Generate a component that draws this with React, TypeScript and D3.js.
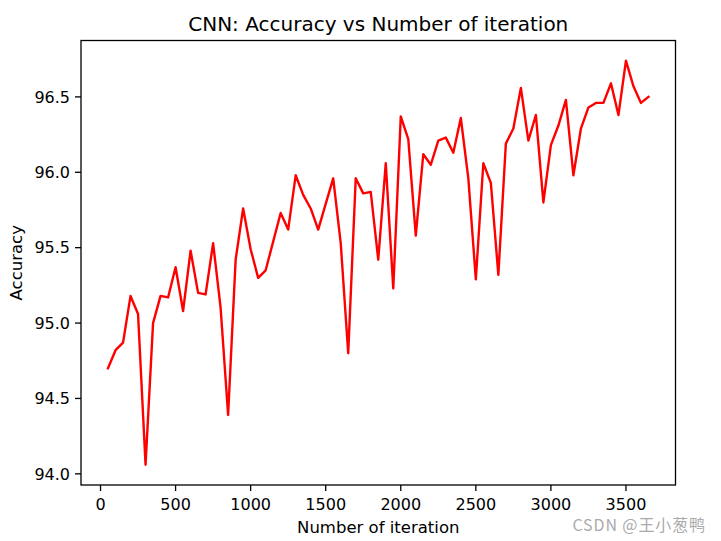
import React from 'react';
import * as d3 from 'd3';

const iterations = [
  50, 100, 150, 200, 250, 300, 350, 400, 450, 500, 550, 600, 650, 700, 750, 800,
  850, 900, 950, 1000, 1050, 1100, 1150, 1200, 1250, 1300, 1350, 1400, 1450, 1500,
  1550, 1600, 1650, 1700, 1750, 1800, 1850, 1900, 1950, 2000, 2050, 2100, 2150,
  2200, 2250, 2300, 2350, 2400, 2450, 2500, 2550, 2600, 2650, 2700, 2750, 2800,
  2850, 2900, 2950, 3000, 3050, 3100, 3150, 3200, 3250, 3300, 3350, 3400, 3450,
  3500, 3550, 3600, 3650,
];

const accuracy = [
  94.7, 94.82, 94.87, 95.18, 95.06, 94.06, 95.0, 95.18, 95.17, 95.37, 95.08, 95.48,
  95.2, 95.19, 95.53, 95.1, 94.39, 95.42, 95.76, 95.49, 95.3, 95.35, 95.54, 95.73,
  95.62, 95.98, 95.85, 95.76, 95.62, 95.79, 95.96, 95.53, 94.8, 95.96, 95.86, 95.87,
  95.42, 96.06, 95.23, 96.37, 96.22, 95.58, 96.12, 96.05, 96.21, 96.23, 96.13, 96.36,
  95.96, 95.29, 96.06, 95.93, 95.32, 96.19, 96.29, 96.56, 96.21, 96.38, 95.8, 96.18,
  96.31, 96.48, 95.98, 96.29, 96.43, 96.46, 96.46, 96.59, 96.38, 96.74, 96.57, 96.46,
  96.5,
];

const xTicks = [0, 500, 1000, 1500, 2000, 2500, 3000, 3500];
const yTicks = [94.0, 94.5, 95.0, 95.5, 96.0, 96.5];

const title = 'CNN: Accuracy vs Number of iteration';
const xLabel = 'Number of iteration';
const yLabel = 'Accuracy';
const watermark = 'CSDN @王小葱鸭';

const W = 721;
const H = 541;
const left = 81;
const right = 675.5;
const top = 40.5;
const bottom = 485;
const font = 'DejaVu Sans, sans-serif';

// matplotlib style 5% margins
const pad = ([a, b]: number[]) => {
  const m = (b - a) * 0.05;
  return [a - m, b + m];
};

const App = () => {
  const x = d3
    .scaleLinear()
    .domain(pad(d3.extent(iterations) as number[]))
    .range([left, right]);
  const y = d3
    .scaleLinear()
    .domain(pad(d3.extent(accuracy) as number[]))
    .range([bottom, top]);

  const line = d3
    .line<number>()
    .x((d, i) => x(iterations[i]))
    .y(d => y(d));

  const fmt = d3.format('.1f');

  return (
    <svg
      width={W}
      height={H}
      style={{ position: 'absolute', left: 0, top: 0, background: '#fff' }}
    >
      <rect width={W} height={H} fill="#fff" />
      <path
        d={line(accuracy) || ''}
        fill="none"
        stroke="#ff0000"
        strokeWidth={2.4}
        strokeLinejoin="round"
        strokeLinecap="square"
      />
      <rect
        x={left}
        y={top}
        width={right - left}
        height={bottom - top}
        fill="none"
        stroke="#000"
        strokeWidth={1.3}
      />
      {xTicks.map(t => (
        <g key={t} transform={`translate(${x(t)},${bottom})`}>
          <line y2={6} stroke="#000" strokeWidth={1.3} />
          <text
            y={24.5}
            textAnchor="middle"
            fontFamily={font}
            fontSize={16}
            fill="#000"
          >
            {t}
          </text>
        </g>
      ))}
      {yTicks.map(t => (
        <g key={t} transform={`translate(${left},${y(t)})`}>
          <line x2={-6} stroke="#000" strokeWidth={1.3} />
          <text
            x={-11}
            dy="0.36em"
            textAnchor="end"
            fontFamily={font}
            fontSize={16}
            fill="#000"
          >
            {fmt(t)}
          </text>
        </g>
      ))}
      <text
        x={(left + right) / 2}
        y={31}
        textAnchor="middle"
        fontFamily={font}
        fontSize={20}
        fill="#000"
      >
        {title}
      </text>
      <text
        x={(left + right) / 2}
        y={533}
        textAnchor="middle"
        fontFamily={font}
        fontSize={16.5}
        fill="#000"
      >
        {xLabel}
      </text>
      <text
        transform={`translate(22,${(top + bottom) / 2}) rotate(-90)`}
        textAnchor="middle"
        fontFamily={font}
        fontSize={16.5}
        fill="#000"
      >
        {yLabel}
      </text>
      <text
        x={706}
        y={531}
        textAnchor="end"
        fontFamily="Noto Sans CJK SC, sans-serif"
        fontSize={16}
        letterSpacing={0.9}
        fill="#ababab"
      >
        {watermark}
      </text>
    </svg>
  );
};

export default App;
